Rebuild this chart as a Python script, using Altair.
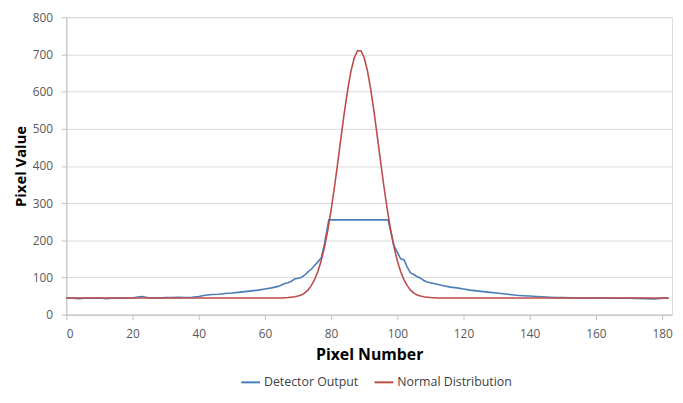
import altair as alt
import pandas as pd

# Detector Output (x, value)
det_x = [0, 2, 4, 6, 8, 10, 12, 14, 16, 18, 20, 22, 23, 24, 26, 28, 30, 32, 34, 36, 38,
         40, 42, 44, 46, 48, 50, 52, 54, 56, 58, 60, 62, 64, 65, 66, 67, 68, 69, 70,
         71, 72, 73, 74, 75, 76, 77, 78, 79.3, 97.2, 98, 99, 100, 101, 102, 103, 104,
         105, 106, 107, 108, 109, 110, 112, 114, 116, 118, 120, 122, 124, 126, 128,
         130, 132, 134, 136, 138, 140, 142, 144, 146, 148, 150, 155, 160, 165, 170,
         175, 178, 180, 182]
det_y = [45, 44, 43, 45, 44, 45, 43, 44, 45, 44, 45, 48, 49, 47, 44, 45, 46, 46, 47, 46, 47,
         49, 52, 54, 55, 57, 58, 60, 62, 64, 66, 69, 72, 76, 80, 84, 86, 90, 96, 98,
         100, 106, 115, 122, 132, 142, 152, 190, 255, 255, 225, 185, 168, 150, 148, 128, 112,
         108, 102, 98, 92, 88, 86, 82, 78, 74, 72, 69, 66, 64, 62, 60,
         58, 56, 54, 52, 51, 50, 49, 48, 47, 46, 46, 45, 45, 44, 44,
         43, 42, 44, 45]

# Normal Distribution (x, value)
norm_x = [0, 20, 40, 60, 65, 67, 68, 69, 70, 71, 72, 73, 74, 75, 76, 77, 78, 79, 80, 81,
          82, 83, 84, 85, 86, 87, 88, 89, 90, 91, 92, 93, 94, 95, 96, 97, 98, 99, 100,
          101, 102, 103, 104, 105, 106, 107, 108, 109, 110, 112, 120, 140, 160, 182]
norm_y = [45, 45, 45, 45, 45, 46, 47, 48, 50, 53, 58, 66, 78, 94, 116, 145, 182, 227, 281, 342,
          408, 477, 544, 604, 655, 691, 710, 710, 691, 655, 604, 544, 477, 408, 342, 281, 227, 182, 145,
          116, 94, 78, 66, 58, 53, 50, 48, 47, 46, 45, 45, 45, 45, 45]

series_names = ["Detector Output", "Normal Distribution"]
series_colors = ["#4a7ebb", "#be4b48"]
x_ticks = [0, 20, 40, 60, 80, 100, 120, 140, 160, 180]
y_ticks = [0, 100, 200, 300, 400, 500, 600, 700, 800]

df = pd.concat([
    pd.DataFrame({"x": det_x, "y": det_y, "series": series_names[0], "o": 0}),
    pd.DataFrame({"x": norm_x, "y": norm_y, "series": series_names[1], "o": 1}),
])

FONT = "Open Sans"
axis_style = dict(labelFont=FONT, titleFont=FONT, labelFontSize=12, labelColor="#595959",
                  titleFontWeight="bold", titleColor="#000000",
                  domainColor="#bfbfbf", tickColor="#bfbfbf", gridColor="#d9d9d9",
                  tickSize=5)

chart = alt.Chart(df).mark_line(strokeWidth=1.6).encode(
    x=alt.X("x:Q", scale=alt.Scale(domain=[0, 183], nice=False),
            axis=alt.Axis(values=x_ticks, title="Pixel Number", grid=False,
                          titleFontSize=16, labelPadding=9, titlePadding=7, **axis_style)),
    y=alt.Y("y:Q", scale=alt.Scale(domain=[0, 800], nice=False),
            axis=alt.Axis(values=y_ticks, title="Pixel Value", grid=True,
                          titleFontSize=15, labelPadding=9, titlePadding=4, **axis_style)),
    color=alt.Color("series:N", scale=alt.Scale(domain=series_names, range=series_colors),
                    legend=alt.Legend(title=None, orient="none", direction="horizontal",
                                      legendX=176, legendY=359, symbolType="stroke",
                                      symbolStrokeWidth=2, symbolSize=360,
                                      labelFontSize=12.5, labelColor="#404040",
                                      columnPadding=12, labelOffset=3, labelFont=FONT)),
    detail="series:N",
    order="o:Q",
).properties(
    width=613, height=301,
    autosize=alt.AutoSizeParams(type="none"),
    padding={"left": 59, "top": 7, "right": 3, "bottom": 80},
).configure_view(stroke=None).configure(background="white")

chart.save("out.html", embed_options={"renderer": "svg", "actions": False})
